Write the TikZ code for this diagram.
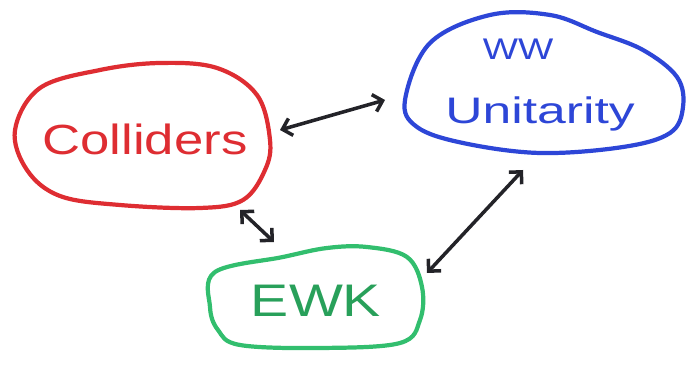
\documentclass[tikz,border=0pt]{standalone}
\usepackage{fontspec}
\setmainfont{Liberation Sans}
\usepackage{xcolor}
\usetikzlibrary{calc,arrows.meta,positioning}
\definecolor{penred}{RGB}{222,45,50}
\definecolor{penblue}{RGB}{45,70,215}
\definecolor{pengreen}{RGB}{50,190,110}
\definecolor{inkgreen}{RGB}{40,160,90}
\definecolor{penblack}{RGB}{35,35,40}

\begin{document}
\begin{tikzpicture}[scale = 1,
blob/.style={line width=2.4pt,line join=round},
word/.style={inner sep=0pt,anchor=base,xscale=1.25},
link/.style={penblack,line width=2pt,{Straight Barb[length=5pt,width=10pt]}-{Straight Barb[length=5pt,width=10pt]}}]
\useasboundingbox (0,0) rectangle (13.88,7.62);
% texts
\node[word,penred,font=\fontsize{24}{26}\selectfont] (colliders) at (2.9,4.52) {Colliders};
\node[word,penblue,font=\fontsize{17}{19}\selectfont] (ww) at (10.36,6.42) {WW};
\node[word,penblue,font=\fontsize{21}{23}\selectfont,xscale=1.12] (unitarity) at (10.8,5.14) {Unitarity};
\node[word,inkgreen,font=\fontsize{26}{28}\selectfont] (ewk) at (6.32,1.28) {EWK};
% blobs
\draw[blob,penred] plot[smooth cycle,tension=0.6] coordinates {(0.30,5.02) (0.80,5.86) (2.00,6.22) (3.20,6.36) (4.34,6.26) (5.14,5.72) (5.40,4.82) (5.30,4.22) (4.86,3.62) (4.00,3.46) (2.40,3.52) (1.20,3.70) (0.54,4.22)};
\draw[blob,penblue] plot[smooth cycle,tension=0.6] coordinates {(8.10,5.62) (8.60,6.76) (9.80,7.32) (11.00,7.32) (11.94,6.98) (12.86,6.62) (13.54,6.08) (13.66,5.48) (13.40,4.96) (12.46,4.68) (10.80,4.56) (9.26,4.76) (8.34,5.08)};
\draw[blob,pengreen] plot[smooth cycle,tension=0.6] coordinates {(4.30,2.18) (5.66,2.48) (6.54,2.66) (7.34,2.68) (8.14,2.48) (8.44,1.88) (8.40,1.22) (8.00,0.76) (6.40,0.66) (4.80,0.72) (4.36,1.02) (4.20,1.48)};
% arrow ends
\coordinate (c1) at (5.60,5.02);
\coordinate (w1) at (7.70,5.62);
\coordinate (c2) at (4.80,3.42);
\coordinate (e2) at (5.48,2.78);
\coordinate (e3) at (8.54,2.16);
\coordinate (w3) at (10.46,4.22);
\draw[link] (c1) -- (w1);
\draw[link] (c2) -- (e2);
\draw[link] (e3) -- (w3);
\end{tikzpicture}
\end{document}
